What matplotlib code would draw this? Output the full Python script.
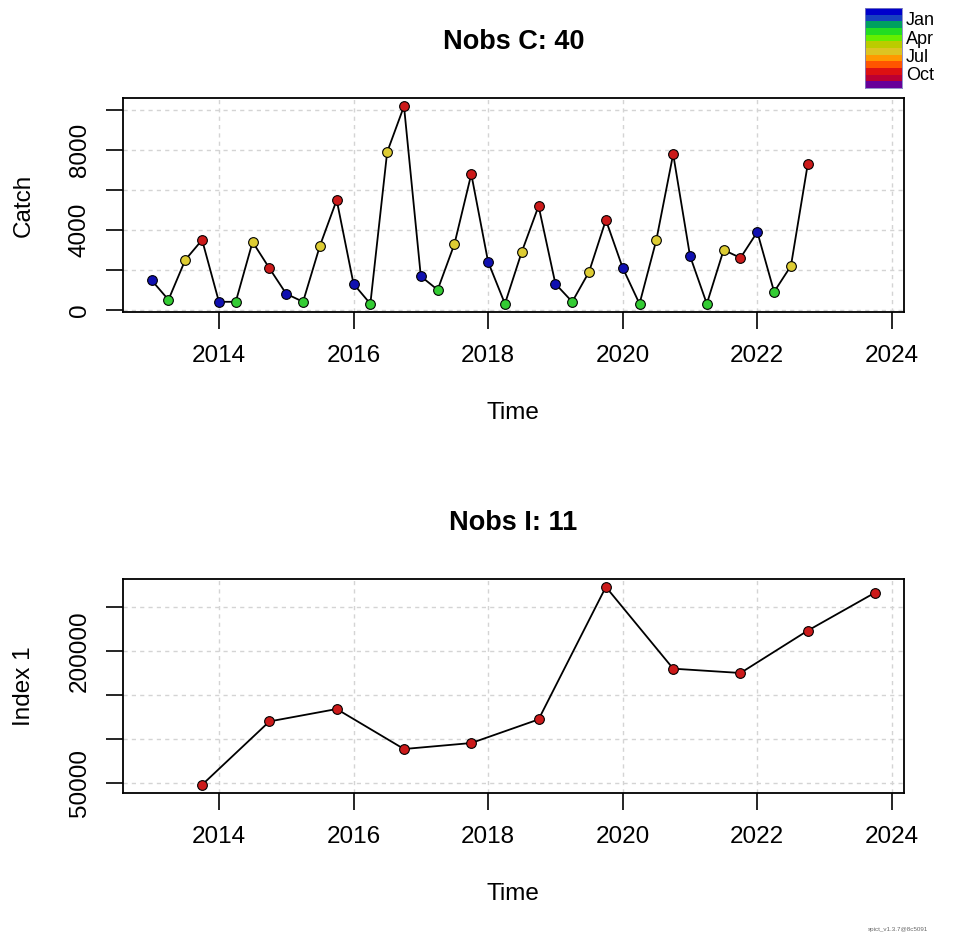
import numpy as np
import matplotlib.pyplot as plt
from matplotlib.colors import ListedColormap

plt.rcParams['font.family'] = ['Liberation Sans', 'DejaVu Sans']

# catch observations (quarterly)
catch_time = [2013.0, 2013.25, 2013.5, 2013.75, 2014.0, 2014.25, 2014.5, 2014.75,
              2015.0, 2015.25, 2015.5, 2015.75, 2016.0, 2016.25, 2016.5, 2016.75,
              2017.0, 2017.25, 2017.5, 2017.75, 2018.0, 2018.25, 2018.5, 2018.75,
              2019.0, 2019.25, 2019.5, 2019.75, 2020.0, 2020.25, 2020.5, 2020.75,
              2021.0, 2021.25, 2021.5, 2021.75, 2022.0, 2022.25, 2022.5, 2022.75]
catch_vals = [1480, 500, 2500, 3500, 400, 400, 3400, 2080,
              800, 400, 3200, 5500, 1300, 300, 7900, 10200,
              1680, 1000, 3300, 6800, 2400, 300, 2900, 5200,
              1300, 400, 1900, 4500, 2100, 300, 3500, 7800,
              2700, 300, 3000, 2600, 3900, 900, 2200, 7300]

# index observations
index_time = [2013.75, 2014.75, 2015.75, 2016.75, 2017.75, 2018.75,
              2019.75, 2020.75, 2021.75, 2022.75, 2023.75]
index_vals = [48500, 120400, 134500, 89100, 95900, 122700,
              273100, 180300, 175400, 223500, 266600]

month_cols = ['#0000cc', '#1840c0', '#00a060', '#22dd22', '#66ee00', '#bbcc00',
              '#ddc422', '#ff9900', '#ff5500', '#dd1111', '#bb0033', '#660099']
legend_months = ['Jan', 'Apr', 'Jul', 'Oct']

point_cols = {0: '#1010b0', 3: '#33cc33', 6: '#ddcc33', 9: '#cc1a1a'}

fig = plt.figure(figsize=(9.54, 9.44), dpi=100)
W, H = 954.0, 944.0

tickFont = 17.5
ax1 = fig.add_axes([122.7 / W, 1 - 311.7 / H, 781.3 / W, 213.4 / H])
ax2 = fig.add_axes([122.7 / W, 1 - 792.7 / H, 781.3 / W, 213.7 / H])

all_t = catch_time + index_time
tpad = 0.04 * (max(all_t) - min(all_t))


def draw(ax, t, v, title, ylab, yticks, ylabels):
    ax.grid(True, color='#d4d4d4', linestyle=(0, (3, 3)), linewidth=1)
    ax.set_axisbelow(True)
    ax.plot(t, v, color='black', linewidth=1.3, zorder=2)
    for ti, vi in zip(t, v):
        m = int(round((ti % 1) * 12)) % 12
        ax.plot(ti, vi, 'o', ms=7, mfc=point_cols[m], mec='black', mew=0.8, zorder=3)
    vpad = 0.04 * (max(v) - min(v))
    ax.set_ylim(min(v) - vpad, max(v) + vpad)
    ax.set_xlim(min(all_t) - tpad, max(all_t) + tpad)
    ax.set_xticks([2014, 2016, 2018, 2020, 2022, 2024])
    ax.set_yticks(yticks)
    ax.set_yticklabels(ylabels)
    ax.tick_params(direction='out', length=12, width=1.2, labelsize=tickFont, pad=11,
                   colors='black')
    ax.tick_params(axis='x', pad=12)
    for lab in ax.get_yticklabels():
        lab.set_rotation(90)
        lab.set_va('center')
    for s in ax.spines.values():
        s.set_linewidth(1.3)
    ax.set_xlabel('Time', fontsize=tickFont, va='center')
    ax.xaxis.set_label_coords(0.5, -101 / 213.5)
    ax.set_ylabel(ylab, fontsize=tickFont, va='center')
    ax.yaxis.set_label_coords(-99 / 781.3, 0.5)
    ax.text(0.5, 1 + 56 / 213.5, title, transform=ax.transAxes, ha='center', va='center',
            fontsize=19.5, fontweight='bold')


draw(ax1, catch_time, catch_vals, 'Nobs C: 40', 'Catch',
     [0, 2000, 4000, 6000, 8000, 10000], ['0', '', '4000', '', '8000', ''])
draw(ax2, index_time, index_vals, 'Nobs I: 11', 'Index 1',
     [50000, 100000, 150000, 200000, 250000], ['50000', '', '', '200000', ''])

# month colour legend
lax = fig.add_axes([865 / W, 1 - 88 / H, 37 / W, 80 / H])
lax.imshow(np.arange(12).reshape(12, 1), cmap=ListedColormap(month_cols), aspect='auto',
           interpolation='nearest')
lax.set_xticks([])
lax.set_yticks([])
for s in lax.spines.values():
    s.set_color('#8080c0')
    s.set_linewidth(0.6)
for i, lab in enumerate(legend_months):
    fig.text(906 / W, 1 - (20.5 + i * 18.5) / H, lab, ha='left', va='center', fontsize=13)

fig.text(898 / W, 1 - 929 / H, 'spict_v1.3.7@8c5091', ha='center', va='center',
         fontsize=4.5, color='#666666')

fig.savefig('out.png', dpi=100)
